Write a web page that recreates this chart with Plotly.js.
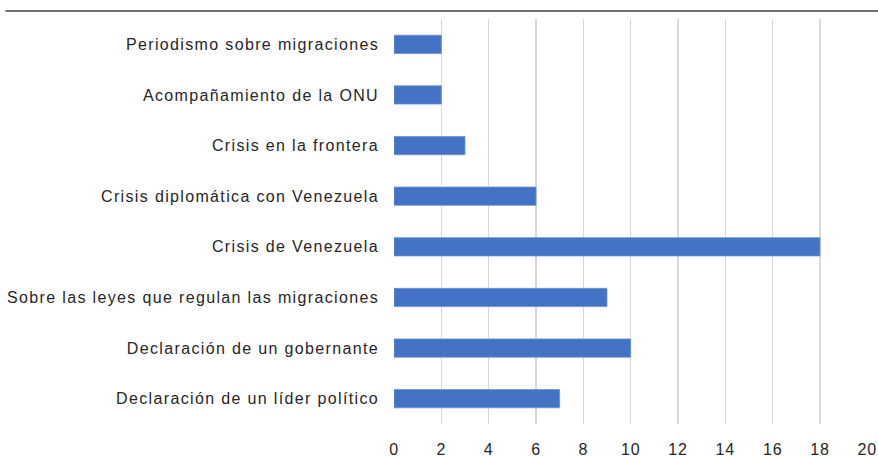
<!DOCTYPE html>
<html>
<head>
<meta charset="utf-8">
<script src="https://cdn.plot.ly/plotly-3.0.1.min.js"></script>
<style>
html,body{margin:0;padding:0;background:#fff;}
#chart{width:878px;height:460px;}
#chart .ytick text{letter-spacing:1.35px;}
#chart .xtick text{letter-spacing:0.8px;}
</style>
</head>
<body>
<div id="chart"></div>
<script>
const categories = [
  "Periodismo sobre migraciones",
  "Acompañamiento de la ONU",
  "Crisis en la frontera",
  "Crisis diplomática con Venezuela",
  "Crisis de Venezuela",
  "Sobre las leyes que regulan las migraciones",
  "Declaración de un gobernante",
  "Declaración de un líder político"
];
const values = [2, 2, 3, 6, 18, 9, 10, 7];
const xTicks = [0, 2, 4, 6, 8, 10, 12, 14, 16, 18, 20];

const trace = {
  type: 'bar',
  orientation: 'h',
  y: categories,
  x: values,
  width: 0.36,
  marker: {color: '#4472c4', line: {color: '#6a8fd0', width: 0.8}},
  hoverinfo: 'x+y'
};

const layout = {
  width: 878, height: 460,
  margin: {l: 394, r: 10, t: 19, b: 36},
  paper_bgcolor: '#ffffff', plot_bgcolor: '#ffffff',
  font: {family: 'Liberation Sans, Arial, sans-serif', size: 16, color: '#262626'},
  showlegend: false,
  xaxis: {
    range: [0, 20.03],
    tickvals: xTicks,
    ticktext: xTicks.map(String),
    showgrid: true, gridcolor: '#d9d9d9', gridwidth: 1.5,
    zeroline: false, showline: false, ticks: '',
    ticklabelstandoff: 14,
    tickfont: {size: 16, color: '#262626'},
    fixedrange: true
  },
  yaxis: {
    type: 'category',
    autorange: 'reversed',
    showgrid: false, zeroline: false, showline: false, ticks: '',
    ticklabelstandoff: 14,
    tickfont: {size: 16, color: '#262626'},
    fixedrange: true
  },
  shapes: [{
    type: 'line', xref: 'paper', yref: 'paper',
    x0: -0.82, x1: 1.03, y0: 1.0198, y1: 1.0198,
    line: {color: '#404040', width: 1.5}
  }]
};

Plotly.newPlot('chart', [trace], layout, {displayModeBar: false, staticPlot: true});
</script>
</body>
</html>
